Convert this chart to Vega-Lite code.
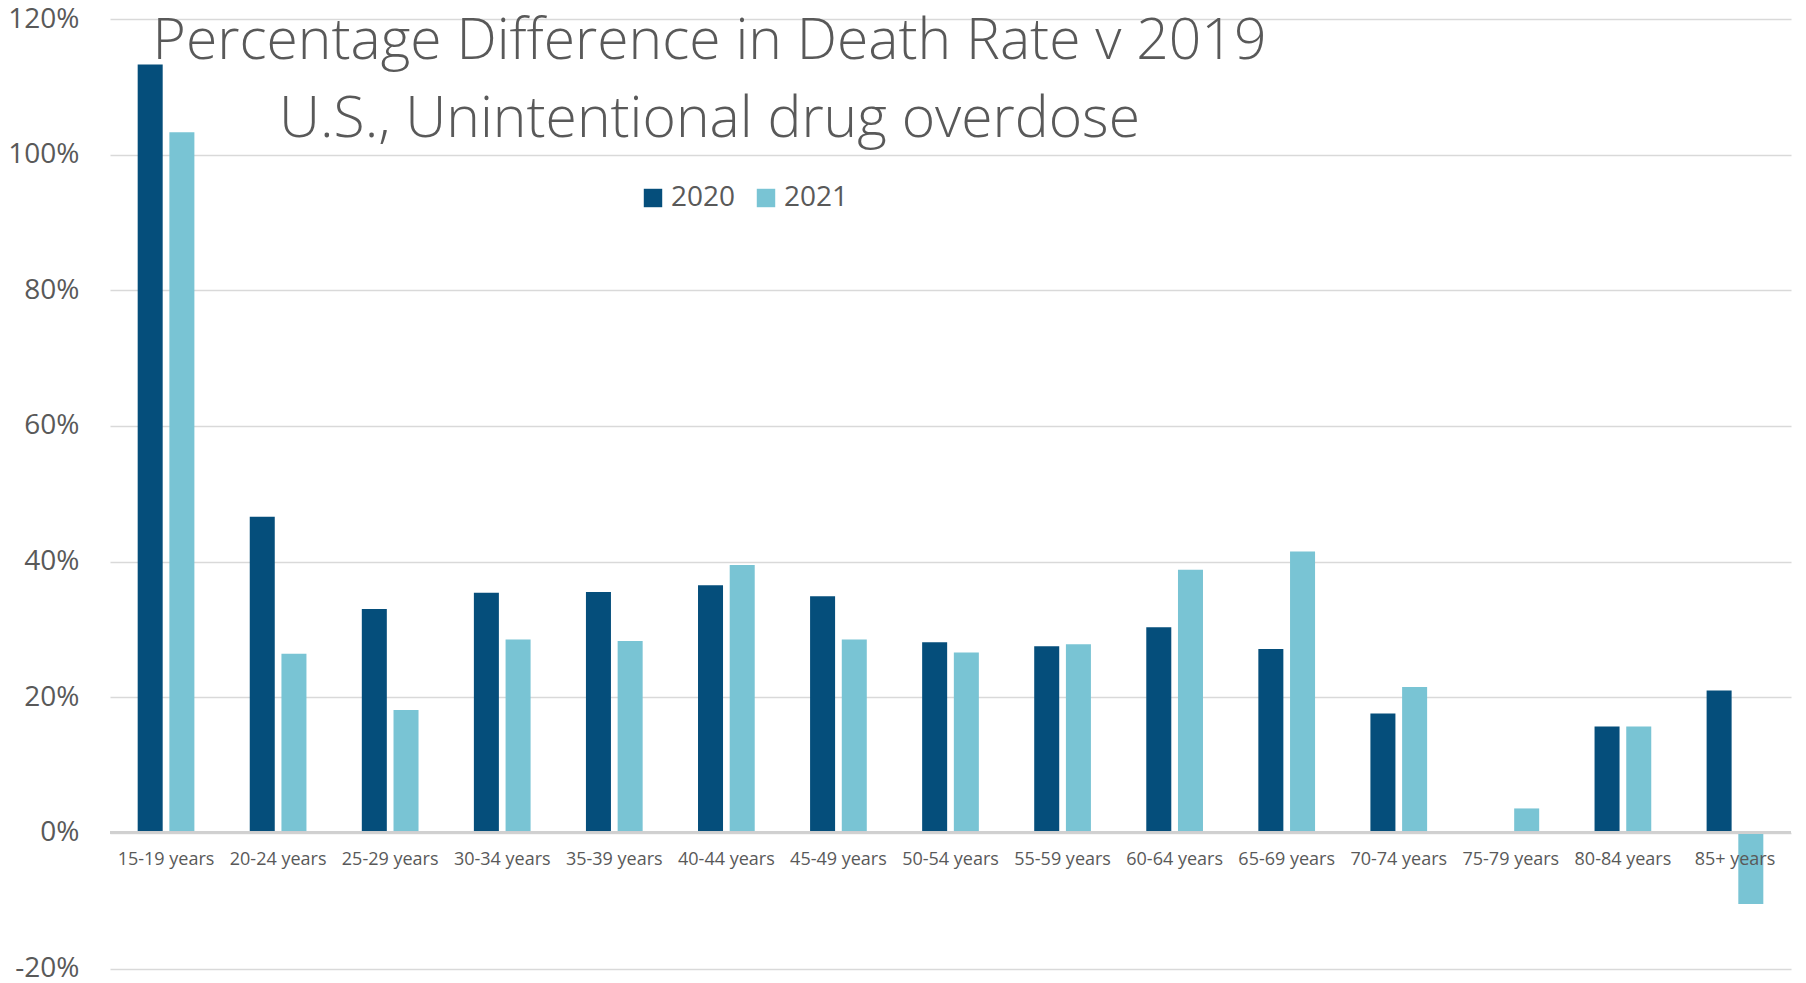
{
  "$schema": "https://vega.github.io/schema/vega-lite/v6.json",
  "autosize": "none",
  "width": 1681,
  "height": 949.5,
  "padding": {"left": 110, "top": 19, "right": 15, "bottom": 14.5},
  "background": "white",
  "title": {
    "text": ["Percentage Difference in Death Rate v 2019", "U.S., Unintentional drug overdose"],
    "font": "Open Sans",
    "fontSize": 57,
    "fontWeight": 300,
    "color": "#595959",
    "lineHeight": 78,
    "anchor": "middle",
    "frame": "group",
    "baseline": "alphabetic",
    "offset": 0,
    "dx": -241,
    "dy": 189
  },
  "data": {
    "values": [
      {"age": "15-19 years", "year": "2020", "value": 1.133},
      {"age": "15-19 years", "year": "2021", "value": 1.033},
      {"age": "20-24 years", "year": "2020", "value": 0.466},
      {"age": "20-24 years", "year": "2021", "value": 0.264},
      {"age": "25-29 years", "year": "2020", "value": 0.330},
      {"age": "25-29 years", "year": "2021", "value": 0.181},
      {"age": "30-34 years", "year": "2020", "value": 0.354},
      {"age": "30-34 years", "year": "2021", "value": 0.285},
      {"age": "35-39 years", "year": "2020", "value": 0.355},
      {"age": "35-39 years", "year": "2021", "value": 0.283},
      {"age": "40-44 years", "year": "2020", "value": 0.365},
      {"age": "40-44 years", "year": "2021", "value": 0.395},
      {"age": "45-49 years", "year": "2020", "value": 0.349},
      {"age": "45-49 years", "year": "2021", "value": 0.285},
      {"age": "50-54 years", "year": "2020", "value": 0.281},
      {"age": "50-54 years", "year": "2021", "value": 0.266},
      {"age": "55-59 years", "year": "2020", "value": 0.275},
      {"age": "55-59 years", "year": "2021", "value": 0.278},
      {"age": "60-64 years", "year": "2020", "value": 0.303},
      {"age": "60-64 years", "year": "2021", "value": 0.388},
      {"age": "65-69 years", "year": "2020", "value": 0.271},
      {"age": "65-69 years", "year": "2021", "value": 0.415},
      {"age": "70-74 years", "year": "2020", "value": 0.176},
      {"age": "70-74 years", "year": "2021", "value": 0.215},
      {"age": "75-79 years", "year": "2021", "value": 0.036},
      {"age": "80-84 years", "year": "2020", "value": 0.157},
      {"age": "80-84 years", "year": "2021", "value": 0.157},
      {"age": "85+ years", "year": "2020", "value": 0.210},
      {"age": "85+ years", "year": "2021", "value": -0.105}
    ]
  },
  "layer": [
    {
      "mark": {"type": "bar"},
      "encoding": {
        "x": {
          "field": "age",
          "type": "nominal",
          "sort": null,
          "scale": {"paddingInner": 0.494, "paddingOuter": 0.247},
          "axis": {
            "title": null,
            "labelAngle": 0,
            "domain": false,
            "ticks": false,
            "grid": false,
            "labelPadding": 18,
            "labelFont": "Open Sans",
            "labelFontSize": 18,
            "labelColor": "#595959",
            "offset": -135.6,
            "zindex": 1
          }
        },
        "xOffset": {
          "field": "year",
          "type": "nominal",
          "scale": {"paddingInner": 0.211, "paddingOuter": 0}
        },
        "y": {
          "field": "value",
          "type": "quantitative",
          "scale": {"domain": [-0.2, 1.2], "nice": false, "zero": false},
          "axis": {
            "title": null,
            "values": [-0.2, 0, 0.2, 0.4, 0.6, 0.8, 1.0, 1.2],
            "format": ".0%",
            "labelExpr": "replace(datum.label, '\u2212', '-')",
            "domain": false,
            "ticks": false,
            "grid": true,
            "gridColor": "#d9d9d9",
            "gridWidth": 1.3,
            "labelPadding": 31,
            "labelFont": "Open Sans",
            "labelFontSize": 28,
            "labelColor": "#595959"
          }
        },
        "color": {
          "field": "year",
          "type": "nominal",
          "scale": {"domain": ["2020", "2021"], "range": ["#054E7B", "#79C4D4"]},
          "legend": {
            "title": null,
            "orient": "none",
            "direction": "horizontal",
            "legendX": 529,
            "legendY": 165,
            "padding": 0,
            "symbolType": "square",
            "symbolSize": 340,
            "symbolStrokeWidth": 0,
            "labelFont": "Open Sans",
            "labelFontSize": 28,
            "labelColor": "#595959",
            "labelOffset": 4,
            "columnPadding": 16
          }
        }
      }
    },
    {
      "mark": {"type": "rule", "color": "#d0d0d0", "strokeWidth": 2},
      "encoding": {"y": {"datum": 0}}
    }
  ],
  "config": {
    "view": {"stroke": null}
  }
}
